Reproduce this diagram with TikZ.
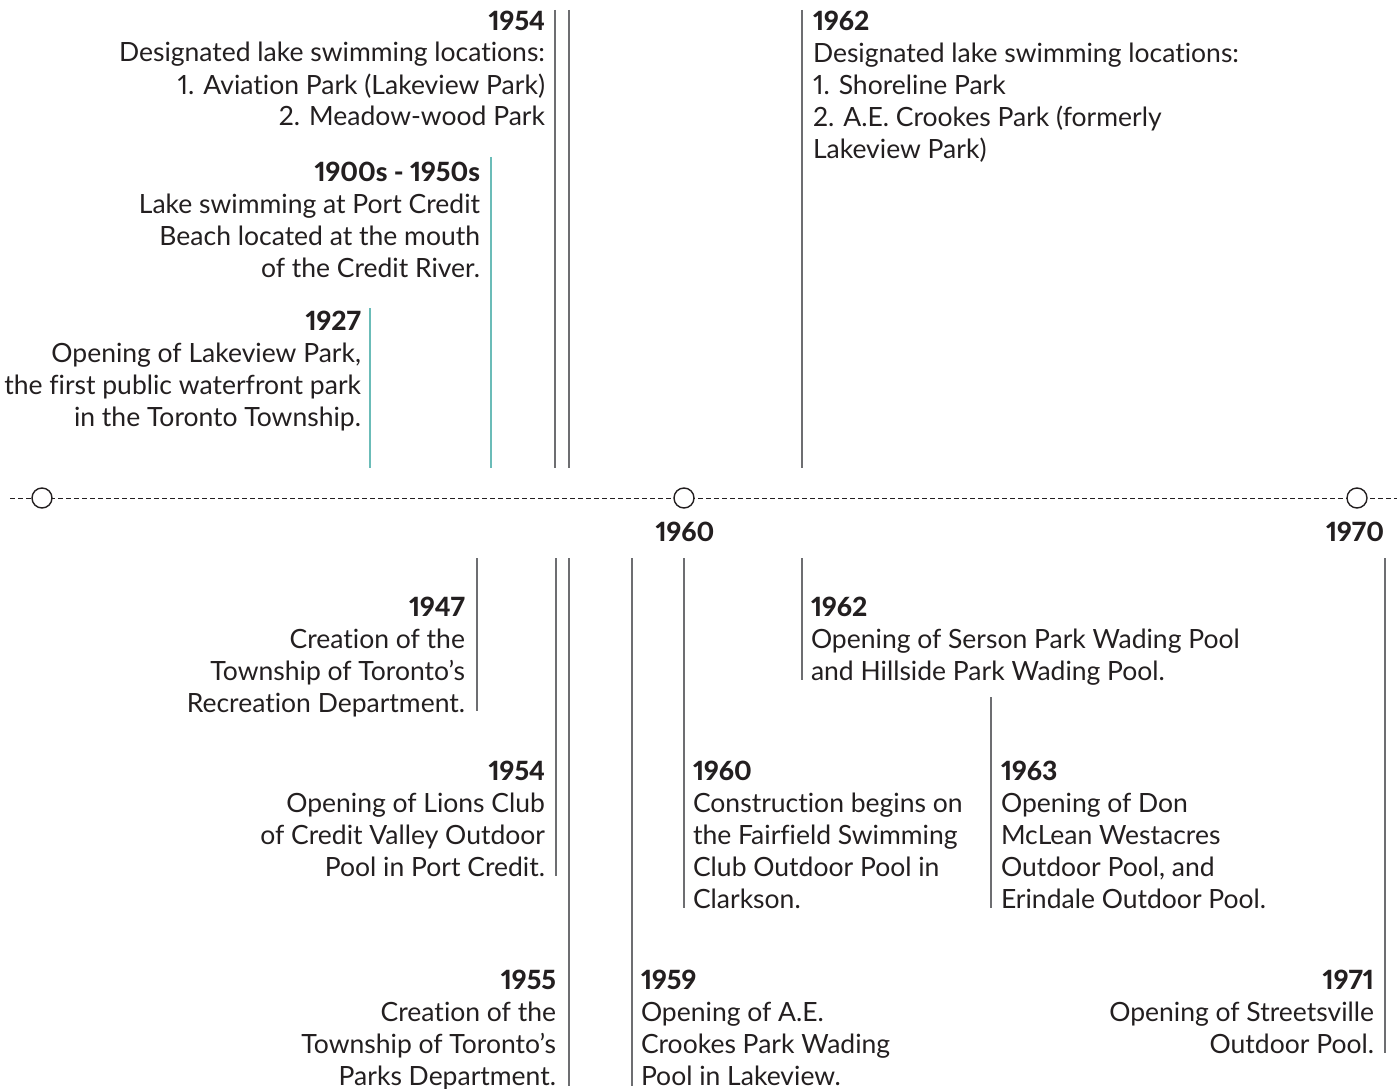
\documentclass[tikz,border=0pt]{standalone}
\usepackage{fontspec}
\setmainfont{Lato}[Ligatures=NoCommon,Numbers=Proportional,BoldFont={Lato Heavy}]
\definecolor{ink}{HTML}{231F20}
\definecolor{rule}{HTML}{6D6E71}
\definecolor{lake}{HTML}{6BBCB8}
\begin{document}
\begin{tikzpicture}[x=1pt,y=-1pt,
  every node/.style={inner sep=0pt,outer sep=0pt,text=ink,font=\fontsize{26.5}{32}\selectfont},
  % anchors sit on the baseline of the last line of each entry
  eventR/.style={align=right,anchor=base east},
  eventL/.style={align=left,anchor=base west},
  yearlbl/.style={anchor=base,font=\fontsize{26.5}{32}\selectfont\bfseries},
  tick/.style={draw=rule,line width=1.2pt},
  laketick/.style={draw=lake,line width=1.2pt},
  axis/.style={draw=ink,line width=1pt,dash pattern=on 5pt off 3pt},
  yeardot/.style={circle,draw=ink,line width=1.4pt,fill=white,minimum size=20pt}]
\useasboundingbox (0,0) rectangle (1400,1089);
\clip (0,0) rectangle (1400,1089);

% timeline axis
\coordinate (axL) at (10,498);
\coordinate (axR) at (1397,498);
\draw[axis] (axL) -- (axR);
\node[yeardot] (d1950) at (42,498) {};
\node[yeardot] (d1960) at (684,498) {};
\node[yeardot] (d1970) at (1357,498) {};
\node[yearlbl] (y1960) at (685,541) {1960};
\node[yearlbl] (y1970) at (1355,541) {1970};

% ---- events above the axis ----
\node[eventR] (t1954) at (545,126) {\textbf{1954}\\Designated lake swimming locations:\\1. Aviation Park (Lakeview Park)\\2. Meadow-wood Park};
\node[eventR] (t1900) at (480,277) {\textbf{1900s - 1950s}\\Lake swimming at Port Credit\\Beach located at the mouth\\of the Credit River.};
\node[eventR] (t1927) at (361,426) {\textbf{1927}\\Opening of Lakeview Park,\\the first public waterfront park\\in the Toronto Township.};
\node[eventL] (t1962) at (813,158) {\textbf{1962}\\Designated lake swimming locations:\\1. Shoreline Park\\2. A.E. Crookes Park (formerly\\Lakeview Park)};

\coordinate (a1) at (555,10);   \coordinate (a1e) at (555,468);
\coordinate (a2) at (569,10);   \coordinate (a2e) at (569,468);
\coordinate (a3) at (491,157);  \coordinate (a3e) at (491,468);
\coordinate (a4) at (370,308);  \coordinate (a4e) at (370,468);
\coordinate (a5) at (802,10);   \coordinate (a5e) at (802,468);
\draw[tick] (a1) -- (a1e);
\draw[tick] (a2) -- (a2e);
\draw[laketick] (a3) -- (a3e);
\draw[laketick] (a4) -- (a4e);
\draw[tick] (a5) -- (a5e);

% ---- events below the axis ----
\node[eventR] (b1947) at (465,712) {\textbf{1947}\\Creation of the\\Township of Toronto’s\\Recreation Department.};
\node[eventR] (b1954) at (545,876) {\textbf{1954}\\Opening of Lions Club\\of Credit Valley Outdoor\\Pool in Port Credit.};
\node[eventR] (b1955) at (556,1085) {\textbf{1955}\\Creation of the\\Township of Toronto’s\\Parks Department.};
\node[eventL] (b1959) at (641,1085) {\textbf{1959}\\Opening of A.E.\\Crookes Park Wading\\Pool in Lakeview.};
\node[eventL] (b1960) at (693,908) {\textbf{1960}\\Construction begins on\\the Fairfield Swimming\\Club Outdoor Pool in\\Clarkson.};
\node[eventL] (b1962) at (811,680) {\textbf{1962}\\Opening of Serson Park Wading Pool\\and Hillside Park Wading Pool.};
\node[eventL] (b1963) at (1001,908) {\textbf{1963}\\Opening of Don\\McLean Westacres\\Outdoor Pool, and\\Erindale Outdoor Pool.};
\node[eventR] (b1971) at (1374,1053) {\textbf{1971}\\Opening of Streetsville\\Outdoor Pool.};

\coordinate (c1) at (477,558);  \coordinate (c1e) at (477,711);
\coordinate (c2) at (556,558);  \coordinate (c2e) at (556,876);
\coordinate (c3) at (569,558);  \coordinate (c3e) at (569,1086);
\coordinate (c4) at (632,558);  \coordinate (c4e) at (632,1086);
\coordinate (c5) at (684,558);  \coordinate (c5e) at (684,908);
\coordinate (c6) at (802,558);  \coordinate (c6e) at (802,680);
\coordinate (c7) at (991,697);  \coordinate (c7e) at (991,908);
\coordinate (c8) at (1385,558); \coordinate (c8e) at (1385,1053);
\foreach \p in {c1,c2,c3,c4,c5,c6,c7,c8} \draw[tick] (\p) -- (\p e);
\end{tikzpicture}
\end{document}
